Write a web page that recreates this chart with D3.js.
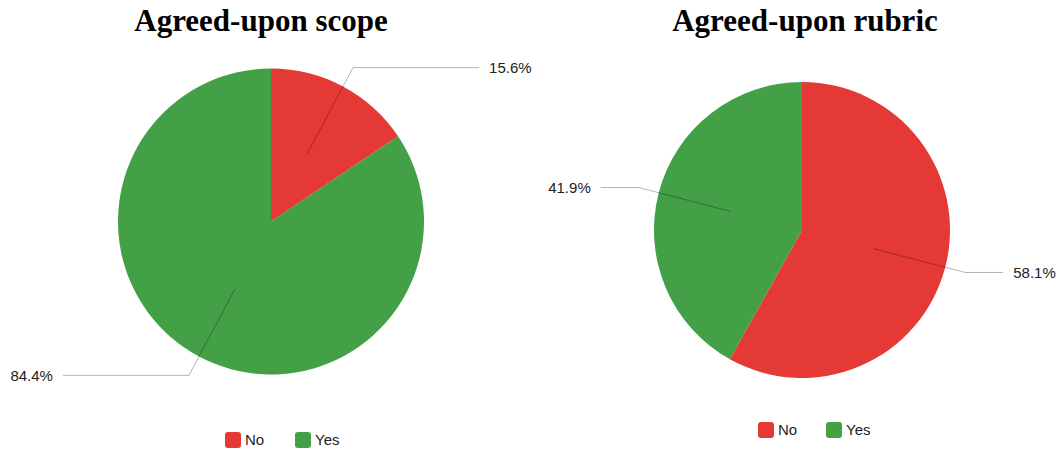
<!DOCTYPE html>
<html>
<head>
<meta charset="utf-8">
<script src="https://cdn.jsdelivr.net/npm/d3@7"></script>
<style>
  html, body { margin: 0; padding: 0; background: #fff; }
  svg { display: block; }
</style>
</head>
<body>
<svg id="chart" width="1056" height="449"></svg>
<script>
// Survey answers, shares in percent
const categories = ["No", "Yes"];
const scopeValues = [15.6, 84.4];
const rubricValues = [58.1, 41.9];
const titles = ["Agreed-upon scope", "Agreed-upon rubric"];
const colors = ["#e53935", "#43a047"];

// Layout of each pie panel
const panels = [
  { title: titles[0], values: scopeValues, cx: 271, cy: 221.5, r: 153, titleX: 261, legendY: 440, legendX: 225, legendStep: 70 },
  { title: titles[1], values: rubricValues, cx: 802, cy: 230, r: 148, titleX: 805, legendY: 430, legendX: 758, legendStep: 68 }
];

const labelFont = "'Liberation Sans', Arial, sans-serif";

const svg = d3.select("#chart");
const color = d3.scaleOrdinal().domain(categories).range(colors);
const pie = d3.pie().sort(null).value(d => d.value);

panels.forEach(p => {
  const data = categories.map((c, i) => ({ cat: c, value: p.values[i] }));
  const arcs = pie(data);
  const g = svg.append("g");

  g.append("text")
    .attr("x", p.titleX)
    .attr("y", 31)
    .attr("text-anchor", "middle")
    .attr("font-family", "'Liberation Serif', 'Times New Roman', serif")
    .attr("font-weight", "bold")
    .attr("font-size", 31)
    .attr("fill", "#000")
    .text(p.title);

  const pg = g.append("g").attr("transform", `translate(${p.cx},${p.cy})`);
  const arc = d3.arc().innerRadius(0).outerRadius(p.r);

  pg.selectAll("path.slice")
    .data(arcs)
    .join("path")
    .attr("class", "slice")
    .attr("d", arc)
    .attr("fill", d => color(d.data.cat));

  // Leader lines and percentage labels
  arcs.forEach(a => {
    const mid = (a.startAngle + a.endAngle) / 2;
    const sx = Math.sin(mid), sy = -Math.cos(mid);
    const inner = [sx * p.r * 0.5, sy * p.r * 0.5];
    const elbow = [sx * p.r * 1.14, sy * p.r * 1.14];
    const right = sx >= 0;
    const endX = (right ? 1 : -1) * p.r * 1.36;
    pg.append("polyline")
      .attr("points", [inner, elbow, [endX, elbow[1]]].map(q => q.join(",")).join(" "))
      .attr("fill", "none")
      .attr("stroke", "#000")
      .attr("stroke-opacity", 0.3)
      .attr("stroke-width", 1);
    pg.append("text")
      .attr("x", endX + (right ? 10 : -10))
      .attr("y", elbow[1])
      .attr("dy", "0.36em")
      .attr("text-anchor", right ? "start" : "end")
      .attr("font-family", labelFont)
      .attr("font-size", 15)
      .attr("fill", "#222")
      .text(d3.format(".1f")(a.data.value) + "%");
  });

  // Legend
  const lg = g.append("g").attr("transform", `translate(${p.legendX},${p.legendY})`);
  categories.forEach((c, i) => {
    const item = lg.append("g").attr("transform", `translate(${i * p.legendStep},0)`);
    item.append("rect")
      .attr("x", 0).attr("y", -8)
      .attr("width", 16).attr("height", 16)
      .attr("rx", 3).attr("ry", 3)
      .attr("fill", color(c));
    item.append("text")
      .attr("x", 20)
      .attr("y", 0)
      .attr("dy", "0.36em")
      .attr("font-family", labelFont)
      .attr("font-size", 15)
      .attr("fill", "#222")
      .text(c);
  });
});
</script>
</body>
</html>
